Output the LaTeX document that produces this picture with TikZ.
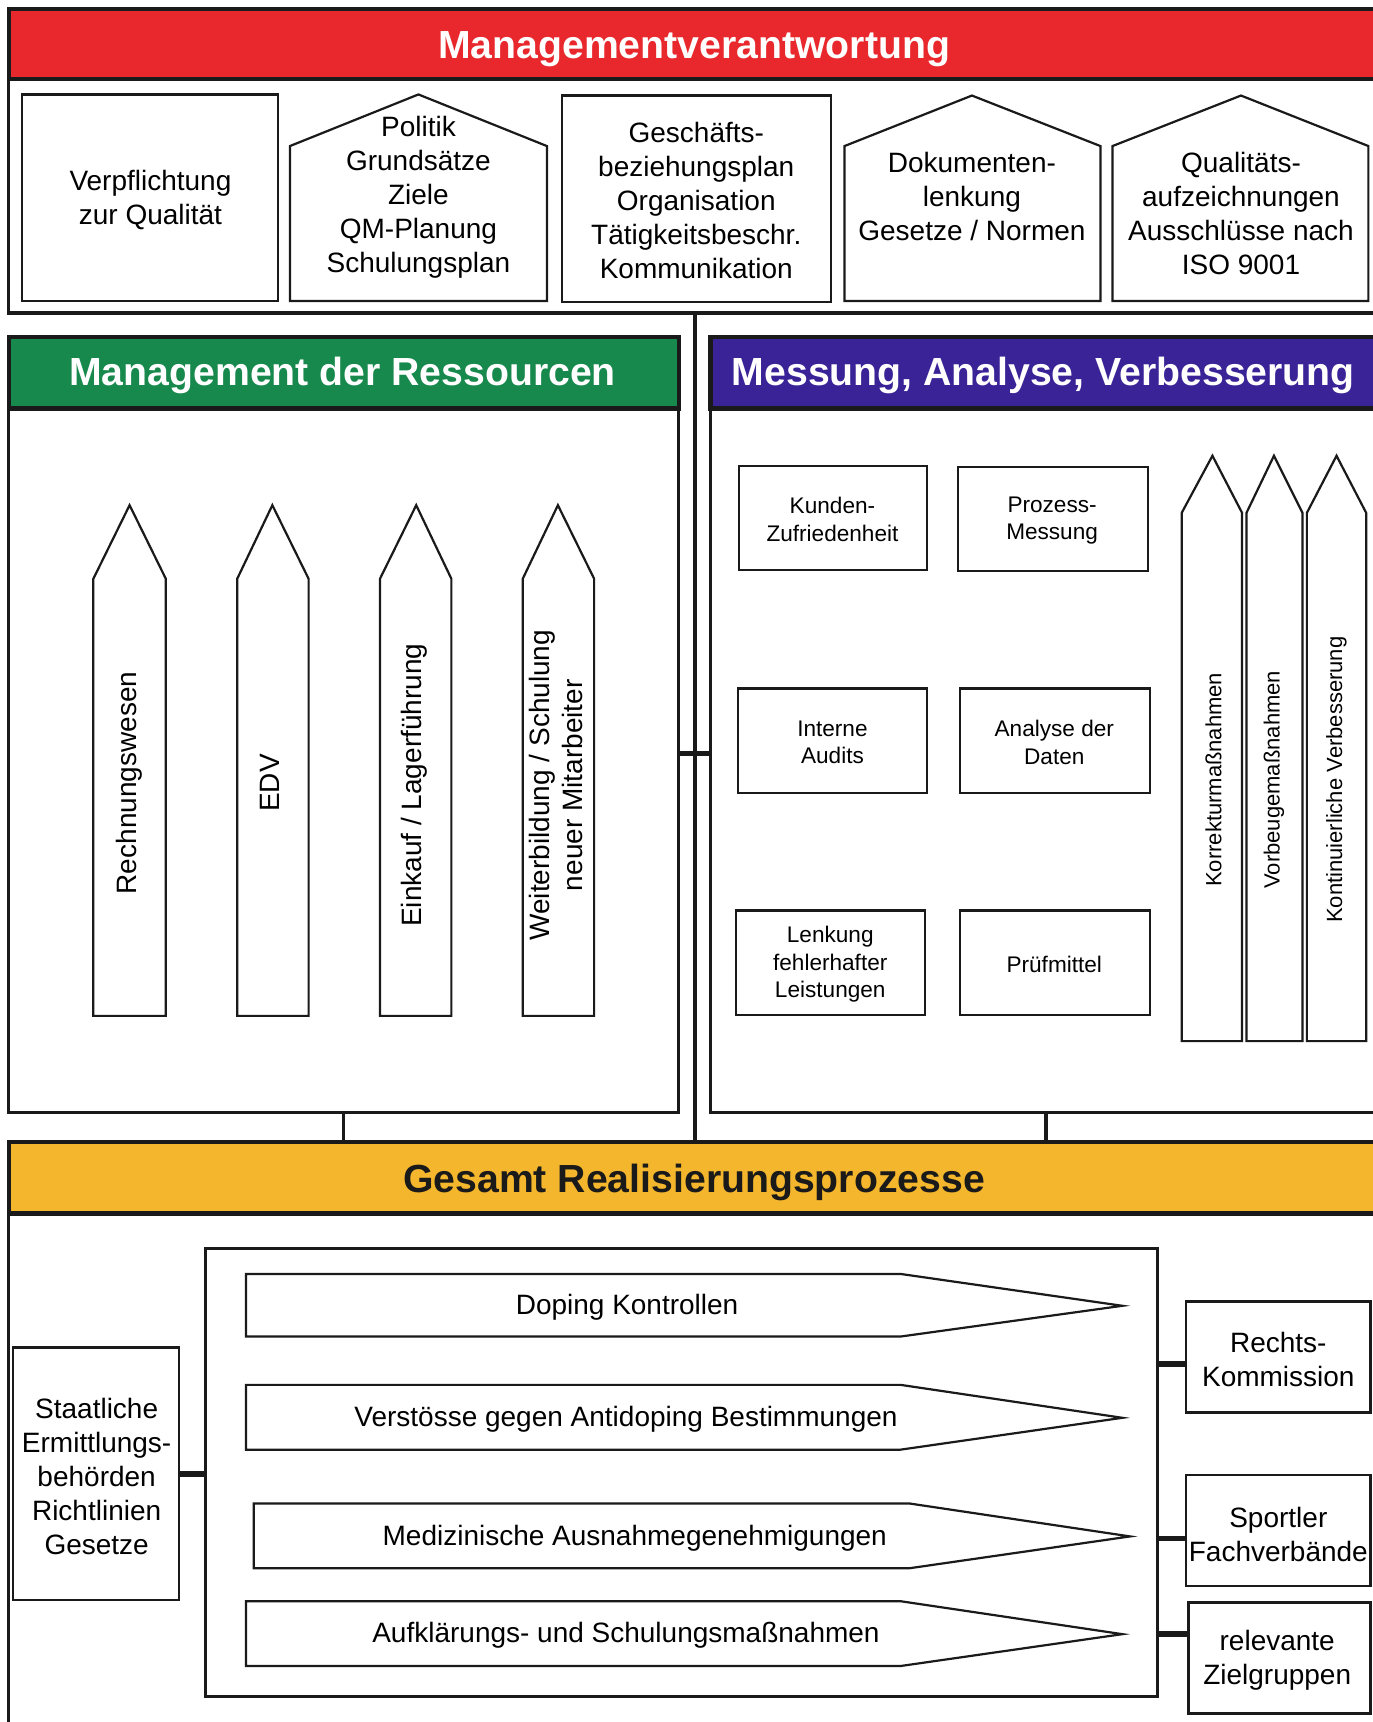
\documentclass[tikz,border=0pt]{standalone}
\usepackage{fontspec}
\setmainfont{Liberation Sans}
\usetikzlibrary{fit}
\definecolor{mred}{HTML}{E8282C}
\definecolor{mgreen}{HTML}{17894D}
\definecolor{mpurple}{HTML}{3A2396}
\definecolor{mgold}{HTML}{F4B62C}
\definecolor{ink}{HTML}{1A1A1A}
\newcommand{\fA}{\fontsize{14}{17}\selectfont}
\newcommand{\fB}{\fontsize{11.3}{13.7}\selectfont}
\newcommand{\fV}{\fontsize{11}{13}\selectfont}
\newcommand{\fT}{\fontsize{19.6}{23}\selectfont\bfseries}
\tikzset{
  frame/.style={draw=ink, line width=1.7pt, inner sep=0pt},
  hdr/.style={draw=ink, line width=2.2pt, inner sep=0pt},
  ibox/.style={draw=ink, line width=1.1pt, inner sep=0pt},
  outl/.style={draw=ink, line width=1.1pt, fill=white, line join=miter},
  txt/.style={inner sep=0pt, align=center, font=\fA},
  stxt/.style={inner sep=0pt, align=center, font=\fB},
  ttl/.style={inner sep=0pt, font=\fT},
  vtxt/.style={inner sep=0pt, align=center, font=\fA, rotate=90},
  vtxts/.style={inner sep=0pt, align=center, font=\fV, rotate=90},
  conn/.style={draw=ink, line width=1.7pt},
  stub/.style={draw=ink, line width=2.8pt},
}
\begin{document}
\begin{tikzpicture}[x=0.5492pt,y=-0.5492pt]
\useasboundingbox (0,0) rectangle (1250,1568);
\fill[white] (0,0) rectangle (1250,1568);

% ---------- top section ----------
\node[frame, fit={(8,72)(1258,285)}] (mvbody) {};
\node[hdr, fill=mred, fit={(8,8)(1258,72)}] (mvhdr) {};
\node[ttl, text=white] (mvtitle) at (632,45) {Managementverantwortung};

\node[ibox, fit={(20,86)(253,274)}] (verp) {};
\node[txt] (verpT) at (137,182) {Verpflichtung\\zur Qualität};
\draw[outl] (264,274) -- (264,133) -- (381,86) -- (498,133) -- (498,274) -- cycle;
\node[txt] (pol) at (381,179.5) {Politik\\Grundsätze\\Ziele\\QM-Planung\\Schulungsplan};
\node[ibox, fit={(512,87)(757,275)}] (gesch) {};
\node[txt] (geschT) at (634,183) {Geschäfts-\\beziehungsplan\\Organisation\\Tätigkeitsbeschr.\\Kommunikation};
\draw[outl] (769,274) -- (769,133) -- (885,87) -- (1002,133) -- (1002,274) -- cycle;
\node[txt] (dok) at (885,179) {Dokumenten-\\lenkung\\Gesetze / Normen};
\draw[outl] (1013,274) -- (1013,133) -- (1130,87) -- (1246,133) -- (1246,274) -- cycle;
\node[txt] (qual) at (1130,194.5) {Qualitäts-\\aufzeichnungen\\Ausschlüsse nach\\ISO 9001};

% ---------- left panel ----------
\node[frame, fit={(8,372)(618,1013)}] (mrbody) {};
\node[hdr, fill=mgreen, fit={(8,307)(618,372)}] (mrhdr) {};
\node[ttl, text=white] (mrtitle) at (312,342) {Management der Ressourcen};

\draw[outl] (85,925) -- (85,527) -- (118,460) -- (151,527) -- (151,925) -- cycle;
\node[vtxt] (rw) at (118,713) {Rechnungswesen};
\draw[outl] (216,925) -- (216,527) -- (248,460) -- (281,527) -- (281,925) -- cycle;
\node[vtxt] (edv) at (246,713) {EDV};
\draw[outl] (346,925) -- (346,527) -- (379,460) -- (411,527) -- (411,925) -- cycle;
\node[vtxt] (ek) at (377,715) {Einkauf / Lagerführung};
\draw[outl] (476,925) -- (476,527) -- (508,460) -- (541,527) -- (541,925) -- cycle;
\node[vtxt, font=\fontsize{14}{16.5}\selectfont] (wb) at (506,715) {Weiterbildung / Schulung\\neuer Mitarbeiter};

% ---------- right panel ----------
\node[frame, fit={(647,372)(1258,1013)}] (mavbody) {};
\node[hdr, fill=mpurple, fit={(647,307)(1258,372)}] (mavhdr) {};
\node[ttl, text=white] (mavtitle) at (950,342) {Messung, Analyse, Verbesserung};

\node[ibox, fit={(673,424)(844,519)}] (kz) {};
\node[stxt] (kzT) at (758,473) {Kunden-\\Zufriedenheit};
\node[ibox, fit={(872,425)(1045,520)}] (pm) {};
\node[stxt] (pmT) at (958,474) {Prozess-\\Messung};
\node[ibox, fit={(672,627)(844,722)}] (ia) {};
\node[stxt] (iaT) at (758,676) {Interne\\Audits};
\node[ibox, fit={(874,627)(1047,722)}] (ad) {};
\node[stxt] (adT) at (960,676) {Analyse der\\Daten};
\node[ibox, fit={(670,829)(842,924)}] (lf) {};
\node[stxt] (lfT) at (756,878) {Lenkung\\fehlerhafter\\Leistungen};
\node[ibox, fit={(874,829)(1047,924)}] (pr) {};
\node[stxt] (prT) at (960,878) {Prüfmittel};

\draw[outl] (1076,948) -- (1076,467) -- (1104,415) -- (1131,467) -- (1131,948) -- cycle;
\node[vtxts] (km) at (1105,710) {Korrekturmaßnahmen};
\draw[outl] (1135,948) -- (1135,467) -- (1160,415) -- (1186,467) -- (1186,948) -- cycle;
\node[vtxts] (vm) at (1160,710) {Vorbeugemaßnahmen};
\draw[outl] (1190,948) -- (1190,467) -- (1217,415) -- (1244,467) -- (1244,948) -- cycle;
\node[vtxts] (kv) at (1217,710) {Kontinuierliche Verbesserung};

% ---------- bottom section ----------
\node[frame, fit={(8,1105)(1258,1580)}] (gsbody) {};
\node[hdr, fill=mgold, fit={(8,1040)(1258,1105)}] (gshdr) {};
\node[ttl, text=ink] (gstitle) at (632,1077) {Gesamt Realisierungsprozesse};

\node[ibox, line width=1.3pt, fit={(12,1227)(163,1457)}] (staat) {};
\node[txt] (staatT) at (88,1344) {Staatliche\\Ermittlungs-\\behörden\\Richtlinien\\Gesetze};
\node[ibox, line width=1.3pt, fit={(187,1137)(1054,1545)}] (inner) {};

\draw[outl] (224,1160) -- (820,1160) -- (1022,1189) -- (820,1217) -- (224,1217) -- cycle;
\node[txt] (dk) at (571,1190) {Doping Kontrollen};
\draw[outl] (224,1261) -- (820,1261) -- (1022,1291) -- (820,1320) -- (224,1320) -- cycle;
\node[txt] (vg) at (570,1292) {Verstösse gegen Antidoping Bestimmungen};
\draw[outl] (231,1369) -- (828,1369) -- (1029,1399) -- (828,1428) -- (231,1428) -- cycle;
\node[txt] (ma) at (578,1401) {Medizinische Ausnahmegenehmigungen};
\draw[outl] (224,1458) -- (820,1458) -- (1022,1488) -- (820,1517) -- (224,1517) -- cycle;
\node[txt] (as) at (570,1489) {Aufklärungs- und Schulungsmaßnahmen};

\node[ibox, line width=1.3pt, fit={(1080,1185)(1248,1286)}] (rk) {};
\node[txt] (rkT) at (1164,1238) {Rechts-\\Kommission};
\node[ibox, line width=1.3pt, fit={(1080,1343)(1248,1444)}] (sf) {};
\node[txt] (sfT) at (1164,1397) {Sportler\\Fachverbände};
\node[ibox, line width=1.3pt, fit={(1082,1459)(1248,1560)}] (zg) {};
\node[txt] (zgT) at (1163,1512) {relevante\\Zielgruppen};

% ---------- connectors ----------
\draw[conn] (mvbody.south) -- (gshdr.north);
\coordinate (sL) at (618,686);
\coordinate (sR) at (647,686);
\draw[stub] (sL) -- (sR);
\draw[conn] (mrbody.south) -- (mrbody.south |- gshdr.north);
\draw[conn] (mavbody.south) -- (mavbody.south |- gshdr.north);
\draw[stub] (staat.east) -- (staat.east -| inner.west);
\coordinate (c1) at (1054,1242);
\coordinate (c2) at (1054,1401);
\coordinate (c3) at (1054,1488);
\draw[stub] (c1) -- (c1 -| rk.west);
\draw[stub] (c2) -- (c2 -| sf.west);
\draw[stub] (c3) -- (c3 -| zg.west);
\end{tikzpicture}
\end{document}
